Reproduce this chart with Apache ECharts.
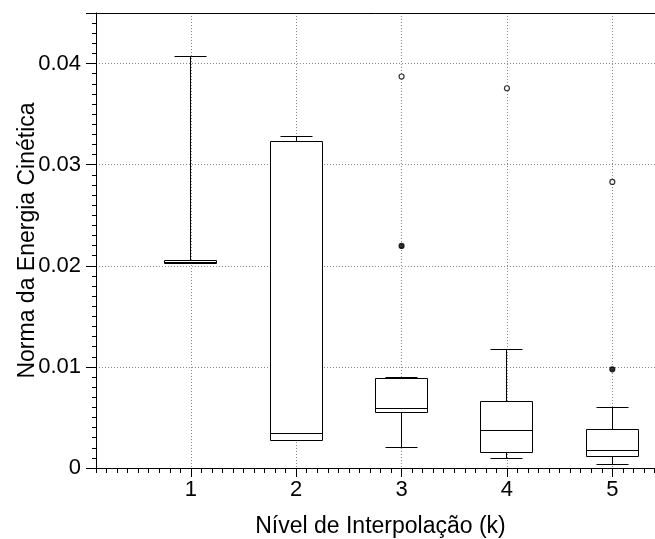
<!DOCTYPE html>
<html>
<head>
<meta charset="utf-8">
<script src="https://cdn.jsdelivr.net/npm/echarts@6/dist/echarts.min.js"></script>
<style>
  html, body { margin: 0; padding: 0; background: #fff; }
  #chart { width: 655px; height: 539px; }
</style>
</head>
<body>
<div id="chart"></div>
<script>
// box values, one entry per level k
var levels = [1, 2, 3, 4, 5];
var whiskerLow = [0.0202, 0.00268, 0.00205, 0.00093, 0.00037];
var q1 = [0.0202, 0.00271, 0.00544, 0.00152, 0.00113];
var median = [0.0203, 0.0034, 0.00588, 0.0037, 0.00172];
var q3 = [0.02055, 0.03234, 0.0089, 0.0066, 0.0038];
var whiskerHigh = [0.04065, 0.0328, 0.00897, 0.01171, 0.00597];

// outliers
var outlierX = [3, 3, 4, 5, 5];
var outlierY = [0.03872, 0.02196, 0.03756, 0.02829, 0.00976];
var outlierFilled = [false, true, false, false, true];

var xTicks = [1, 2, 3, 4, 5];

var font = '"Liberation Sans", Arial, Helvetica, sans-serif';

var boxData = levels.map(function (x, i) {
  return [x, whiskerLow[i], q1[i], median[i], q3[i], whiskerHigh[i]];
});
var outlierData = outlierX.map(function (x, i) {
  return {
    value: [x, outlierY[i]],
    itemStyle: { color: outlierFilled[i] ? '#000' : '#fff' }
  };
});

function crisp (v) {
  return Math.round(v - 0.5) + 0.5;
}

function renderBox (params, api) {
  var x = api.value(0);
  var pLow = api.coord([x, api.value(1)]);
  var pQ1 = api.coord([x, api.value(2)]);
  var pMed = api.coord([x, api.value(3)]);
  var pQ3 = api.coord([x, api.value(4)]);
  var pHigh = api.coord([x, api.value(5)]);
  var cx = crisp(pQ1[0]);
  var halfBox = 26;
  var halfCap = 16;
  var stroke = { stroke: '#000', lineWidth: 1, fill: null };
  var yQ1 = crisp(pQ1[1]), yQ3 = crisp(pQ3[1]), yMed = crisp(pMed[1]);
  var yLow = crisp(pLow[1]), yHigh = crisp(pHigh[1]);
  var children = [
    { type: 'line', shape: { x1: cx, y1: yQ3, x2: cx, y2: yHigh }, style: stroke },
    { type: 'line', shape: { x1: cx, y1: yQ1, x2: cx, y2: yLow }, style: stroke },
    { type: 'line', shape: { x1: cx - halfCap, y1: yHigh, x2: cx + halfCap, y2: yHigh }, style: stroke },
    { type: 'line', shape: { x1: cx - halfCap, y1: yLow, x2: cx + halfCap, y2: yLow }, style: stroke },
    { type: 'rect', shape: { x: cx - halfBox, y: yQ3, width: halfBox * 2, height: Math.max(yQ1 - yQ3, 3) },
      style: { stroke: '#000', lineWidth: 1, fill: '#fff' } },
    { type: 'line', shape: { x1: cx - halfBox, y1: yMed, x2: cx + halfBox, y2: yMed }, style: stroke }
  ];
  return { type: 'group', children: children };
}

var chart = echarts.init(document.getElementById('chart'));
chart.setOption({
  backgroundColor: '#fff',
  animation: false,
  grid: { left: 96, width: 569, top: 13, bottom: 71, outerBoundsMode: 'none' },
  xAxis: [
    {
      type: 'value',
      min: 0.1,
      max: 5.5,
      position: 'bottom',
      name: 'Nível de Interpolação (k)',
      nameLocation: 'middle',
      nameGap: 47,
      nameMoveOverlap: false,
      nameTextStyle: { fontFamily: font, fontSize: 23, color: '#000' },
      axisLine: { show: true, lineStyle: { color: '#000', width: 1 } },
      axisTick: { show: true, length: 9, customValues: xTicks, lineStyle: { color: '#000' } },
      axisLabel: { customValues: xTicks, margin: 11, fontFamily: font, fontSize: 22, color: '#000' },
      splitLine: { show: true, lineStyle: { color: '#888', type: [1, 2], width: 1 } }
    },
    {
      // minor ticks every 0.1
      type: 'value',
      min: 0.1,
      max: 5.5,
      interval: 0.1,
      position: 'bottom',
      axisLine: { show: false },
      axisTick: { show: true, length: 5, lineStyle: { color: '#000' } },
      axisLabel: { show: false },
      splitLine: { show: false }
    },
    {
      // top frame
      type: 'value',
      min: 0.1,
      max: 5.5,
      position: 'top',
      axisLine: { show: true, lineStyle: { color: '#000', width: 1 } },
      axisTick: { show: false },
      axisLabel: { show: false },
      splitLine: { show: false }
    }
  ],
  yAxis: {
    type: 'value',
    min: 0,
    max: 0.045,
    interval: 0.01,
    name: 'Norma da Energia Cinética',
    nameLocation: 'middle',
    nameGap: 57,
    nameMoveOverlap: false,
    nameTextStyle: { fontFamily: font, fontSize: 23, color: '#000' },
    axisLine: { show: true, lineStyle: { color: '#000', width: 1 } },
    axisTick: { show: true, length: 10, lineStyle: { color: '#000' } },
    minorTick: { show: true, splitNumber: 10, length: 4, lineStyle: { color: '#000' } },
    axisLabel: { margin: 15, fontFamily: font, fontSize: 22, color: '#000', showMaxLabel: false },
    splitLine: { show: true, lineStyle: { color: '#888', type: [1, 2], width: 1 } }
  },
  series: [
    {
      type: 'custom',
      xAxisIndex: 0,
      renderItem: renderBox,
      data: boxData,
      encode: { x: 0, y: [1, 2, 3, 4, 5] },
      z: 3
    },
    {
      type: 'scatter',
      xAxisIndex: 0,
      data: outlierData,
      symbol: 'circle',
      symbolSize: 5,
      itemStyle: { borderColor: '#000', borderWidth: 1.2 },
      z: 4
    }
  ]
});
</script>
</body>
</html>
